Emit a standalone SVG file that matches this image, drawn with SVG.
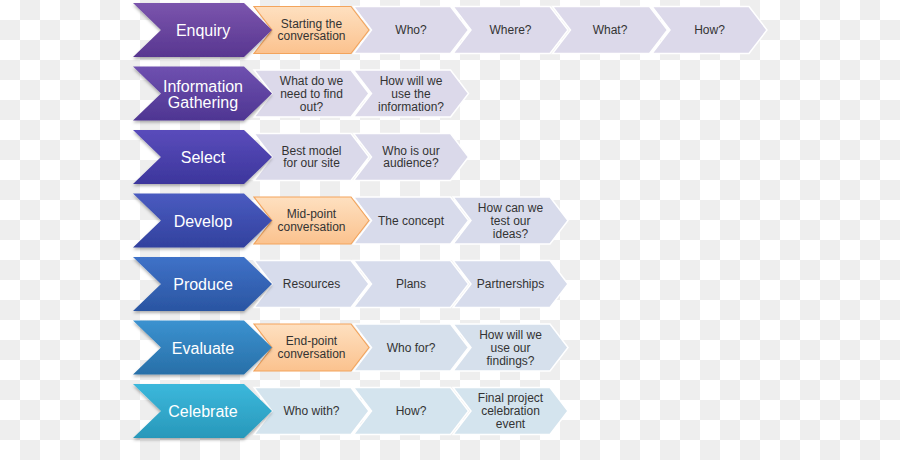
<svg xmlns="http://www.w3.org/2000/svg" width="900" height="460" viewBox="0 0 900 460">
<defs>
<pattern id="checker" width="40" height="40" patternUnits="userSpaceOnUse">
<rect width="40" height="40" fill="#ffffff"/>
<rect x="20" y="0" width="20" height="20" fill="#eeeeee"/>
<rect x="0" y="20" width="20" height="20" fill="#eeeeee"/>
</pattern>
<linearGradient id="g1" x1="0" y1="0" x2="0" y2="1"><stop offset="0" stop-color="#7b55ad"/><stop offset="1" stop-color="#583690"/></linearGradient>
<linearGradient id="g2" x1="0" y1="0" x2="0" y2="1"><stop offset="0" stop-color="#6f51b0"/><stop offset="1" stop-color="#4e3592"/></linearGradient>
<linearGradient id="g3" x1="0" y1="0" x2="0" y2="1"><stop offset="0" stop-color="#5a4cbb"/><stop offset="1" stop-color="#3c369c"/></linearGradient>
<linearGradient id="g4" x1="0" y1="0" x2="0" y2="1"><stop offset="0" stop-color="#4a5bc0"/><stop offset="1" stop-color="#32419e"/></linearGradient>
<linearGradient id="g5" x1="0" y1="0" x2="0" y2="1"><stop offset="0" stop-color="#3f72c8"/><stop offset="1" stop-color="#2a55a2"/></linearGradient>
<linearGradient id="g6" x1="0" y1="0" x2="0" y2="1"><stop offset="0" stop-color="#3b92d0"/><stop offset="1" stop-color="#286fa8"/></linearGradient>
<linearGradient id="g7" x1="0" y1="0" x2="0" y2="1"><stop offset="0" stop-color="#3cb8dc"/><stop offset="1" stop-color="#2898ba"/></linearGradient>
<linearGradient id="go" x1="0" y1="0" x2="0" y2="1"><stop offset="0" stop-color="#fee0c0"/><stop offset="1" stop-color="#fbc28e"/></linearGradient>
<filter id="sh" x="-10%" y="-20%" width="120%" height="150%">
<feDropShadow dx="0" dy="2" stdDeviation="1.5" flood-color="#000000" flood-opacity="0.3"/>
</filter>
<path id="big" d="M133,-27 L244,-27 L272,0 L244,27 L133,27 L161,0 Z"/>
<path id="small" d="M0,-23.5 L97,-23.5 L115,0 L97,23.5 L0,23.5 L18,0 Z"/>
</defs>
<style>
.bigt{font-family:"Liberation Sans",Arial,sans-serif;font-size:16px;fill:#ffffff;text-anchor:middle}
.smt{font-family:"Liberation Sans",Arial,sans-serif;font-size:12px;fill:#333333;text-anchor:middle}
.big{filter:url(#sh)}
.s{stroke:#ffffff;stroke-width:1.5}
.o{fill:url(#go);stroke:#f3a45c;stroke-width:1.2}
.r1{fill:#dcd9ea}.r2{fill:#dcd9ea}.r3{fill:#dad9ea}.r4{fill:#d8dbeb}.r5{fill:#d7dcec}.r6{fill:#d6e0ec}.r7{fill:#d4e4ee}
</style>
<rect width="900" height="460" fill="url(#checker)"/>

<!-- Row 1 -->
<g id="enquiry-steps">
<g id="n1a" transform="translate(254,30)"><use href="#small" class="o"/><text class="smt" x="57.5" y="-2.5">Starting the</text><text class="smt" x="57.5" y="10">conversation</text></g>
<g id="n1b" transform="translate(353.5,30)"><use href="#small" class="s r1"/><text class="smt" x="57.5" y="4">Who?</text></g>
<g id="n1c" transform="translate(453,30)"><use href="#small" class="s r1"/><text class="smt" x="57.5" y="4">Where?</text></g>
<g id="n1d" transform="translate(552.5,30)"><use href="#small" class="s r1"/><text class="smt" x="57.5" y="4">What?</text></g>
<g id="n1e" transform="translate(652,30)"><use href="#small" class="s r1"/><text class="smt" x="57.5" y="4">How?</text></g>
</g>
<g id="enquiry" transform="translate(0,30)"><use href="#big" class="big" fill="url(#g1)"/><text class="bigt" x="203" y="6">Enquiry</text></g>

<!-- Row 2 -->
<g id="n2a" transform="translate(254,93.5)"><use href="#small" class="s r2"/><text class="smt" x="57.5" y="-9">What do we</text><text class="smt" x="57.5" y="4">need to find</text><text class="smt" x="57.5" y="17">out?</text></g>
<g id="n2b" transform="translate(353.5,93.5)"><use href="#small" class="s r2"/><text class="smt" x="57.5" y="-9">How will we</text><text class="smt" x="57.5" y="4">use the</text><text class="smt" x="57.5" y="17">information?</text></g>
<g id="information-gathering" transform="translate(0,93.5)"><use href="#big" class="big" fill="url(#g2)"/><text class="bigt" x="203" y="-2">Information</text><text class="bigt" x="203" y="14">Gathering</text></g>

<!-- Row 3 -->
<g id="n3a" transform="translate(254,157)"><use href="#small" class="s r3"/><text class="smt" x="57.5" y="-2.5">Best model</text><text class="smt" x="57.5" y="10">for our site</text></g>
<g id="n3b" transform="translate(353.5,157)"><use href="#small" class="s r3"/><text class="smt" x="57.5" y="-2.5">Who is our</text><text class="smt" x="57.5" y="10">audience?</text></g>
<g id="select" transform="translate(0,157)"><use href="#big" class="big" fill="url(#g3)"/><text class="bigt" x="203" y="6">Select</text></g>

<!-- Row 4 -->
<g id="n4a" transform="translate(254,220.5)"><use href="#small" class="o"/><text class="smt" x="57.5" y="-2.5">Mid-point</text><text class="smt" x="57.5" y="10">conversation</text></g>
<g id="n4b" transform="translate(353.5,220.5)"><use href="#small" class="s r4"/><text class="smt" x="57.5" y="4">The concept</text></g>
<g id="n4c" transform="translate(453,220.5)"><use href="#small" class="s r4"/><text class="smt" x="57.5" y="-9">How can we</text><text class="smt" x="57.5" y="4">test our</text><text class="smt" x="57.5" y="17">ideas?</text></g>
<g id="develop" transform="translate(0,220.5)"><use href="#big" class="big" fill="url(#g4)"/><text class="bigt" x="203" y="6">Develop</text></g>

<!-- Row 5 -->
<g id="n5a" transform="translate(254,284)"><use href="#small" class="s r5"/><text class="smt" x="57.5" y="4">Resources</text></g>
<g id="n5b" transform="translate(353.5,284)"><use href="#small" class="s r5"/><text class="smt" x="57.5" y="4">Plans</text></g>
<g id="n5c" transform="translate(453,284)"><use href="#small" class="s r5"/><text class="smt" x="57.5" y="4">Partnerships</text></g>
<g id="produce" transform="translate(0,284)"><use href="#big" class="big" fill="url(#g5)"/><text class="bigt" x="203" y="6">Produce</text></g>

<!-- Row 6 -->
<g id="n6a" transform="translate(254,347.5)"><use href="#small" class="o"/><text class="smt" x="57.5" y="-2.5">End-point</text><text class="smt" x="57.5" y="10">conversation</text></g>
<g id="n6b" transform="translate(353.5,347.5)"><use href="#small" class="s r6"/><text class="smt" x="57.5" y="4">Who for?</text></g>
<g id="n6c" transform="translate(453,347.5)"><use href="#small" class="s r6"/><text class="smt" x="57.5" y="-9">How will we</text><text class="smt" x="57.5" y="4">use our</text><text class="smt" x="57.5" y="17">findings?</text></g>
<g id="evaluate" transform="translate(0,347.5)"><use href="#big" class="big" fill="url(#g6)"/><text class="bigt" x="203" y="6">Evaluate</text></g>

<!-- Row 7 -->
<g id="n7a" transform="translate(254,411)"><use href="#small" class="s r7"/><text class="smt" x="57.5" y="4">Who with?</text></g>
<g id="n7b" transform="translate(353.5,411)"><use href="#small" class="s r7"/><text class="smt" x="57.5" y="4">How?</text></g>
<g id="n7c" transform="translate(453,411)"><use href="#small" class="s r7"/><text class="smt" x="57.5" y="-9">Final project</text><text class="smt" x="57.5" y="4">celebration</text><text class="smt" x="57.5" y="17">event</text></g>
<g id="celebrate" transform="translate(0,411)"><use href="#big" class="big" fill="url(#g7)"/><text class="bigt" x="203" y="6">Celebrate</text></g>
</svg>
